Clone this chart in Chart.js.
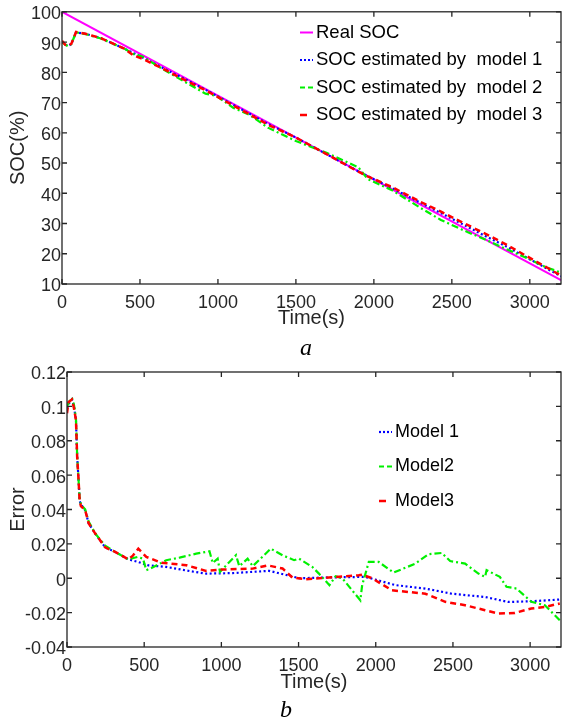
<!DOCTYPE html>
<html><head><meta charset="utf-8">
<script src="https://cdn.jsdelivr.net/npm/chart.js@4.4.1/dist/chart.umd.min.js"></script>
<style>
html,body{margin:0;padding:0;background:#fff;}
body{width:562px;height:722px;position:relative;overflow:hidden;}
canvas{position:absolute;left:0;}
#c1{top:0;}
#c2{top:360px;}
.lab{position:absolute;width:60px;text-align:center;font-family:"Liberation Serif","Times New Roman",serif;font-style:italic;font-size:24px;line-height:28px;color:#000;}
</style></head><body>
<canvas id="c1" width="562" height="360"></canvas>
<canvas id="c2" width="562" height="362"></canvas>
<div class="lab" style="left:276px;top:333px;">a</div>
<div class="lab" style="left:256px;top:695px;">b</div>
<script>
// ---- data ----
const timeTicks = [0, 500, 1000, 1500, 2000, 2500, 3000];
const timeTickLabels = ['0', '500', '1000', '1500', '2000', '2500', '3000'];
const socTicks = [10, 20, 30, 40, 50, 60, 70, 80, 90, 100];
const socTickLabels = ['10', '20', '30', '40', '50', '60', '70', '80', '90', '100'];
const errTicks = [-0.04, -0.02, 0, 0.02, 0.04, 0.06, 0.08, 0.1, 0.12];
const errTickLabels = ['-0.04', '-0.02', '0', '0.02', '0.04', '0.06', '0.08', '0.1', '0.12'];

const realTime = [0, 3200];
const realSOC = [100, 11.3];
const estTime = [0, 20, 40, 60, 90, 150, 250, 400, 460, 515, 650, 800, 920, 990, 1100, 1200, 1320, 1500, 1700, 1900, 1960, 2120, 2300, 2430, 2600, 2710, 2850, 3000, 3100, 3200];
const socModel1 = [90.1, 89.15, 88.69, 89.34, 93.21, 92.74, 91.27, 87.81, 86.30, 84.94, 81.33, 77.42, 74.23, 72.28, 69.21, 66.37, 62.98, 58.42, 52.83, 47.25, 45.67, 41.63, 36.82, 33.44, 28.93, 25.98, 22.37, 18.18, 15.37, 12.54];
const socModel2 = [90.0, 89.15, 88.59, 89.34, 93.21, 92.64, 91.17, 87.81, 86.01, 85.25, 80.92, 76.47, 72.93, 72.19, 68.21, 66.02, 61.69, 57.28, 53.28, 48.61, 44.72, 40.90, 35.14, 31.17, 27.18, 24.80, 21.50, 18.14, 15.64, 13.75];
const socModel3 = [90.4, 89.15, 88.79, 89.44, 93.31, 92.74, 91.27, 87.81, 85.55, 84.48, 81.11, 77.10, 74.06, 72.06, 68.97, 66.18, 62.69, 58.42, 52.84, 47.15, 45.62, 41.95, 37.12, 33.94, 29.53, 26.74, 23.03, 18.62, 15.73, 12.77];

const errTime1 = [0, 15, 32, 45, 58, 66, 75, 82, 90, 118, 140, 183, 247, 312, 398, 460, 527, 643, 806, 901, 1073, 1310, 1439, 1503, 1700, 1933, 1998, 2127, 2321, 2493, 2708, 2858, 3008, 3192];
const errModel1 = [0.099, 0.102, 0.104, 0.100, 0.092, 0.0705, 0.057, 0.045, 0.043, 0.0395, 0.032, 0.026, 0.018, 0.0153, 0.011, 0.0095, 0.0075, 0.0066, 0.004, 0.0027, 0.003, 0.0043, 0.0015, 0.0, 0.0005, 0.0008, -0.0008, -0.004, -0.006, -0.009, -0.0109, -0.0138, -0.0134, -0.0124];
const errTime2 = [0, 15, 32, 45, 58, 66, 75, 82, 90, 118, 140, 183, 247, 312, 398, 458, 492, 514, 560, 643, 729, 837, 923, 944, 976, 991, 1052, 1095, 1116, 1170, 1203, 1320, 1396, 1471, 1503, 1589, 1632, 1700, 1740, 1783, 1900, 1912, 1955, 2019, 2116, 2256, 2342, 2428, 2482, 2579, 2665, 2708, 2718, 2804, 2847, 2912, 3008, 3095, 3192];
const errModel2 = [0.100, 0.103, 0.105, 0.101, 0.093, 0.071, 0.057, 0.046, 0.043, 0.040, 0.033, 0.026, 0.019, 0.0153, 0.011, 0.0124, 0.0114, 0.0047, 0.0065, 0.0105, 0.012, 0.0143, 0.0157, 0.0089, 0.0114, 0.0037, 0.0095, 0.0134, 0.007, 0.0114, 0.007, 0.0172, 0.0134, 0.0105, 0.0114, 0.0066, 0.0027, -0.004, 0.0012, 0.0, -0.0128, -0.004, 0.0095, 0.0095, 0.0033, 0.0085, 0.014, 0.0147, 0.010, 0.0085, 0.0027, 0.0008, 0.0047, 0.0008, -0.005, -0.006, -0.0137, -0.0157, -0.0244];
const errTime3 = [0, 10, 32, 45, 58, 66, 75, 82, 90, 118, 140, 183, 247, 312, 398, 425, 462, 514, 613, 772, 901, 987, 1203, 1300, 1396, 1460, 1546, 1697, 1890, 1912, 1976, 2105, 2321, 2450, 2579, 2708, 2794, 2901, 3008, 3095, 3192];
const errModel3 = [0.096, 0.1025, 0.104, 0.099, 0.092, 0.0705, 0.057, 0.045, 0.042, 0.0395, 0.032, 0.026, 0.018, 0.0153, 0.011, 0.013, 0.0172, 0.0124, 0.009, 0.0076, 0.0043, 0.005, 0.0056, 0.0075, 0.0057, 0.0004, -0.0006, 0.0004, 0.0017, 0.0021, 0.0, -0.007, -0.009, -0.0137, -0.0157, -0.0186, -0.0205, -0.0202, -0.0176, -0.0167, -0.0147];

// ---- helpers ----
const FONT = '"Liberation Sans", Arial, Helvetica, sans-serif';
const TXT = '#262626';
const GREEN = '#00f000';
const zip = (xs, ys) => xs.map((x, i) => ({x: x, y: ys[i]}));

const frameTicks = {
  id: 'frameTicks',
  afterDatasetsDraw(chart) {
    const {ctx, chartArea: a, scales: {x, y}} = chart;
    const L = 5;
    ctx.save();
    ctx.strokeStyle = TXT;
    ctx.lineWidth = 1.3;
    ctx.strokeRect(a.left, a.top, a.right - a.left, a.bottom - a.top);
    ctx.beginPath();
    x.ticks.forEach(t => {
      const px = x.getPixelForValue(t.value);
      ctx.moveTo(px, a.bottom); ctx.lineTo(px, a.bottom - L);
      ctx.moveTo(px, a.top); ctx.lineTo(px, a.top + L);
    });
    y.ticks.forEach(t => {
      const py = y.getPixelForValue(t.value);
      ctx.moveTo(a.left, py); ctx.lineTo(a.left + L, py);
      ctx.moveTo(a.right, py); ctx.lineTo(a.right - L, py);
    });
    ctx.stroke();
    ctx.restore();
  }
};

const inLegend = {
  id: 'inLegend',
  afterDraw(chart, args, o) {
    const ctx = chart.ctx;
    ctx.save();
    ctx.font = o.size + 'px ' + FONT;
    ctx.textBaseline = 'middle';
    ctx.textAlign = 'left';
    o.order.forEach((di, k) => {
      const ds = chart.data.datasets[di];
      const yy = o.y + k * o.dy;
      ctx.strokeStyle = ds.borderColor;
      ctx.lineWidth = ds.borderWidth;
      ctx.setLineDash(o.dash[k]);
      ctx.beginPath();
      ctx.moveTo(o.x, yy); ctx.lineTo(o.x + o.len, yy);
      ctx.stroke();
      ctx.setLineDash([]);
      ctx.fillStyle = '#000';
      ctx.fillText(ds.label, o.x + o.len + 3, yy);
    });
    ctx.restore();
  }
};

function xAxis(h) {
  return {
    type: 'linear', min: 0, max: 3200,
    grid: {display: false, drawTicks: false}, border: {display: false},
    afterBuildTicks: s => { s.ticks = timeTicks.map(v => ({value: v})); },
    ticks: {padding: 8, color: TXT, font: {family: FONT, size: 18}, maxRotation: 0, autoSkip: false,
            callback: v => timeTickLabels[timeTicks.indexOf(v)]},
    title: {display: true, text: 'Time(s)', color: TXT, font: {family: FONT, size: 20}, padding: {top: 0, bottom: 0}},
    afterFit: s => { s.height = h; }
  };
}
function yAxis(w, mn, mx, tv, tl, title) {
  return {
    type: 'linear', min: mn, max: mx,
    grid: {display: false, drawTicks: false}, border: {display: false},
    afterBuildTicks: s => { s.ticks = tv.map(v => ({value: v})); },
    ticks: {padding: 1, labelOffset: 2.5, color: TXT, font: {family: FONT, size: 18}, autoSkip: false,
            callback: v => tl[tv.findIndex(t => Math.abs(t - v) < 1e-9)]},
    title: {display: true, text: title, color: TXT, font: {family: FONT, size: 20}, padding: {top: 6, bottom: 0}},
    afterFit: s => { s.width = w; }
  };
}
function line(label, pts, color, width, dash, order) {
  return {label: label, data: pts, borderColor: color, borderWidth: width, borderDash: dash,
          pointRadius: 0, fill: false, tension: 0, order: order};
}

// ---- top chart ----
new Chart(document.getElementById('c1'), {
  type: 'line',
  data: {datasets: [
    line('Real SOC', zip(realTime, realSOC), '#ff00ff', 2, [], 3),
    line('SOC estimated by  model 1', zip(estTime, socModel1), '#0000ff', 2.2, [2, 2.5], 2),
    line('SOC estimated by  model 2', zip(estTime, socModel2), GREEN, 2.2, [7, 3, 2, 3], 1),
    line('SOC estimated by  model 3', zip(estTime, socModel3), '#ff0000', 2.5, [6, 4], 0)
  ]},
  options: {
    responsive: false, animation: false, parsing: false,
    layout: {padding: {top: 9, right: 1, left: 0, bottom: 30}},
    plugins: {legend: {display: false}, tooltip: {enabled: false},
      inLegend: {x: 300, y: 32.5, dy: 27.5, len: 13, size: 18.5, order: [0, 1, 2, 3],
                 dash: [[], [2, 2], [5, 3], [7, 20]]}},
    scales: {x: xAxis(46), y: yAxis(62, 10, 100, socTicks, socTickLabels, 'SOC(%)')}
  },
  plugins: [frameTicks, inLegend]
});

// ---- bottom chart ----
new Chart(document.getElementById('c2'), {
  type: 'line',
  data: {datasets: [
    line('Model 1', zip(errTime1, errModel1), '#0000ff', 2.2, [2, 2.5], 2),
    line('Model2', zip(errTime2, errModel2), GREEN, 2.2, [7, 3, 2, 3], 1),
    line('Model3', zip(errTime3, errModel3), '#ff0000', 2.5, [6, 4], 0)
  ]},
  options: {
    responsive: false, animation: false, parsing: false,
    layout: {padding: {top: 12, right: 1, left: 0, bottom: 28}},
    plugins: {legend: {display: false}, tooltip: {enabled: false},
      inLegend: {x: 379, y: 72, dy: 34.5, len: 13, size: 18, order: [0, 1, 2],
                 dash: [[2, 2], [5, 3], [7, 20]]}},
    scales: {x: xAxis(47), y: yAxis(67, -0.04, 0.12, errTicks, errTickLabels, 'Error')}
  },
  plugins: [frameTicks, inLegend]
});
</script>
</body></html>
